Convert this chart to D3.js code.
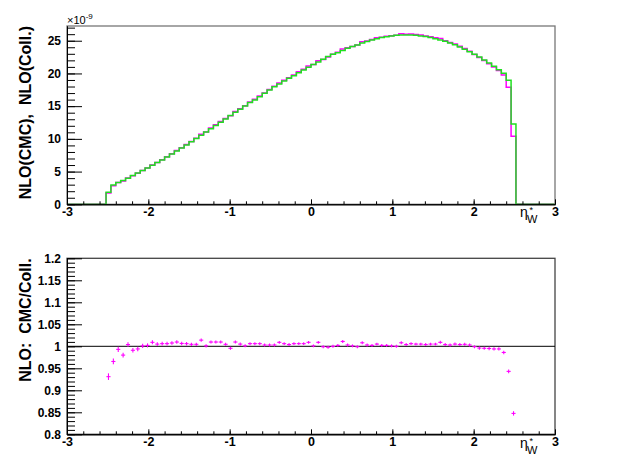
<!DOCTYPE html>
<html><head><meta charset="utf-8">
<script src="https://cdn.jsdelivr.net/npm/d3@7"></script>
<style>
body{margin:0;background:#fff}
svg{display:block}
text{font-family:"Liberation Sans",Arial,Helvetica,sans-serif}
</style>
</head><body>
<svg id="c" width="623" height="463"></svg>
<script>
// ---- data ----
const binLow = -2.52;      // lower edge of first filled bin
const binWidth = 0.06;     // bin width in eta
// NLO(Coll.) histogram (green), units of 1e-9
const collValues = [
  1.85, 2.95, 3.35, 3.65, 4.0, 4.4, 4.78, 5.15, 5.55, 5.96,
  6.37, 6.78, 7.22, 7.68, 8.14, 8.6, 9.08, 9.56, 10.04, 10.54,
  11.04, 11.55, 12.06, 12.55, 13.05, 13.58, 14.05,
  14.52, 15.03, 15.54, 15.95, 16.45, 16.97, 17.48, 17.98, 18.39, 18.85,
  19.27, 19.66, 20.12, 20.53, 20.95, 21.35, 21.76, 22.17, 22.57, 22.93,
  23.18, 23.49, 23.85, 24.1, 24.36,
  24.64, 24.9, 25.12, 25.32, 25.48, 25.62, 25.73, 25.82, 25.87, 25.89,
  25.88, 25.83, 25.74, 25.63, 25.48, 25.31, 25.12, 24.91, 24.66, 24.37,
  24.05, 23.7, 23.33, 22.93, 22.51, 22.06, 21.6, 21.1, 20.58, 20.03,
  18.96, 12.26
];
// NLO CMC/Coll. ratio per bin (magenta points)
const ratioValues = [
  0.931, 0.9655, 0.993, 0.980, 1.004, 0.991, 0.994, 1.001, 1.002, 1.009,
  1.005, 1.006, 1.006, 1.0075, 1.0097, 1.0065, 1.006, 1.0045, 1.0045, 1.014,
  1.001, 1.0097, 1.0097, 1.0097, 1.0045, 0.9955, 1.0097, 1.005, 1.001, 1.006,
  1.006, 1.006, 1.003, 1.003, 1.003, 1.009, 1.006, 1.004, 1.006, 1.006,
  1.006, 1.009, 1.001, 1.009, 0.999, 0.998, 1.000, 1.002, 1.011, 1.003,
  1.001, 0.999, 1.008, 1.003, 1.002, 1.005, 1.002, 1.002, 1.001, 1.000,
  1.008, 1.004, 1.006, 1.005, 1.005, 1.004, 1.005, 1.005, 1.009, 1.004,
  1.003, 1.005, 1.004, 1.0045, 1.003, 0.999, 0.996, 0.9955, 0.995, 0.994,
  0.994, 0.986, 0.943, 0.8475
];
const ratioErrors = [
  0.0075, 0.0065, 0.006, 0.0055, 0.0053, 0.005, 0.005, 0.0048, 0.0046, 0.0045,
  0.0044, 0.0043, 0.0042, 0.0041, 0.004, 0.004, 0.0039, 0.0038, 0.0038, 0.0037,
  0.0037, 0.0036, 0.0036, 0.0036, 0.0035, 0.0035, 0.0035, 0.0035, 0.0034, 0.0034,
  0.0034, 0.0034, 0.0034, 0.0033, 0.0033, 0.0033, 0.0033, 0.0033, 0.0033, 0.0033,
  0.0033, 0.0033, 0.0033, 0.0033, 0.0033, 0.0033, 0.0033, 0.0033, 0.0033, 0.0033,
  0.0033, 0.0033, 0.0033, 0.0033, 0.0033, 0.0033, 0.0033, 0.0033, 0.0033, 0.0033,
  0.0033, 0.0033, 0.0033, 0.0033, 0.0033, 0.0033, 0.0033, 0.0033, 0.0034, 0.0034,
  0.0034, 0.0034, 0.0034, 0.0035, 0.0035, 0.0035, 0.0036, 0.0036, 0.0037, 0.0037,
  0.0038, 0.004, 0.0042, 0.005
];
const xTicks = [-3, -2, -1, 0, 1, 2, 3];
const topYTicks = [0, 5, 10, 15, 20, 25];
const ratioTicks = [0.8, 0.85, 0.9, 0.95, 1, 1.05, 1.1, 1.15, 1.2];
const topTitle = "NLO(CMC),  NLO(Coll.)";
const botTitle = "NLO:  CMC/Coll.";

// ---- layout ----
const svg = d3.select("#c");
const L = 67, R = 555;
const topP = {t: 26, b: 204.3, ymax: 27.25};
const botP = {t: 258.3, b: 434.3};
const colGreen = "#1fe01f", colMag = "#ff00ff";
const FONT = '"Liberation Sans",Arial,sans-serif';

const x = d3.scaleLinear().domain([-3, 3]).range([L, R]);
const yTop = d3.scaleLinear().domain([0, topP.ymax]).range([topP.b, topP.t]);
const yBot = d3.scaleLinear().domain([0.8, 1.2]).range([botP.b, botP.t]);

const fmtR = d => (d === 1 ? "1" : String(+d.toFixed(2)));
const minorX = d3.range(-3, 3.0001, 0.2).map(v => +v.toFixed(2));

function frame(t, b, col) {
  svg.append("rect").attr("x", L).attr("y", t).attr("width", R - L).attr("height", b - t)
    .attr("fill", "none").attr("stroke", col).attr("stroke-width", 1.3);
}
function xAxis(yPos) {
  const g = svg.append("g").attr("transform", `translate(0,${yPos})`);
  g.call(d3.axisBottom(x).tickValues(minorX).tickSize(-3).tickSizeOuter(0).tickFormat(""));
  const g2 = svg.append("g").attr("transform", `translate(0,${yPos})`);
  g2.call(d3.axisBottom(x).tickValues(xTicks).tickSize(-5).tickSizeOuter(0).tickPadding(3.2)
      .tickFormat(d => d < 0 ? "-" + Math.abs(d) : String(d)));
  [g, g2].forEach(a => { a.select(".domain").attr("stroke", "#000"); a.selectAll("line").attr("stroke", "#000"); });
  g2.selectAll("text").attr("font-size", 12.5).attr("font-weight", "bold").attr("fill", "#000")
    .attr("font-family", FONT);
}
function yAxis(scale, major, minor, fmt) {
  const g = svg.append("g").attr("transform", `translate(${L},0)`);
  g.call(d3.axisLeft(scale).tickValues(minor).tickSize(-8).tickSizeOuter(0).tickFormat(""));
  const g2 = svg.append("g").attr("transform", `translate(${L},0)`);
  g2.call(d3.axisLeft(scale).tickValues(major).tickSize(-15).tickSizeOuter(0).tickPadding(6).tickFormat(fmt));
  [g, g2].forEach(a => { a.select(".domain").attr("stroke", "#000"); a.selectAll("line").attr("stroke", "#000"); });
  g2.selectAll("text").attr("font-size", 12).attr("font-weight", "bold").attr("fill", "#000")
    .attr("font-family", FONT);
}
function etaLabel(dy) {
  svg.append("text").attr("x", 520).attr("y", 216.7 + dy).attr("font-size", 14).text("η");
  svg.append("text").attr("x", 529.5).attr("y", 212.5 + dy).attr("font-size", 9).text("*");
  svg.append("text").attr("x", 527).attr("y", 223.3 + dy).attr("font-size", 11).text("W");
}
function yTitle(txt, yEnd) {
  svg.append("text").attr("transform", `translate(31,${yEnd}) rotate(-90)`)
    .attr("text-anchor", "end").attr("font-size", 16).attr("font-weight", "bold")
    .style("white-space", "pre").attr("xml:space", "preserve").text(txt);
}

// ---- top panel ----
frame(topP.t, topP.b, "#777");
const cmcValues = collValues.map((v, i) => v * ratioValues[i]);
function histPts(vals) {
  const pts = [{e: -3, v: 0}];
  vals.forEach((v, i) => pts.push({e: binLow + i * binWidth, v}));
  pts.push({e: binLow + vals.length * binWidth, v: 0});
  pts.push({e: 3, v: 0});
  return pts;
}
const step = d3.line().x(d => x(d.e)).y(d => yTop(d.v)).curve(d3.curveStepAfter);
svg.append("path").attr("d", step(histPts(cmcValues))).attr("fill", "none")
  .attr("stroke", colMag).attr("stroke-width", 1.5);
svg.append("path").attr("d", step(histPts(collValues))).attr("fill", "none")
  .attr("stroke", colGreen).attr("stroke-width", 1.5);

xAxis(topP.b);
yAxis(yTop, topYTicks, d3.range(0, 27.5, 1), d => String(d));
svg.append("text").attr("x", 67).attr("y", 24).attr("font-size", 11).text("×10")
  .append("tspan").attr("dy", -5).attr("font-size", 8).text("-9");
etaLabel(0);
yTitle(topTitle, topP.t);

// ---- bottom panel ----
frame(botP.t, botP.b, "#444");
svg.append("line").attr("x1", L).attr("x2", R).attr("y1", yBot(1)).attr("y2", yBot(1))
  .attr("stroke", "#000").attr("stroke-width", 1);
const pts = ratioValues.map((r, i) => ({c: binLow + (i + 0.5) * binWidth, r, e: ratioErrors[i]}));
const pg = svg.append("g");
pg.selectAll("line.h").data(pts).join("line").attr("class", "h")
  .attr("stroke", colMag).attr("stroke-width", 1.1)
  .attr("x1", d => x(d.c - binWidth * 0.42)).attr("x2", d => x(d.c + binWidth * 0.42))
  .attr("y1", d => yBot(d.r)).attr("y2", d => yBot(d.r));
pg.selectAll("line.v").data(pts).join("line").attr("class", "v")
  .attr("stroke", colMag).attr("stroke-width", 1.1)
  .attr("x1", d => x(d.c)).attr("x2", d => x(d.c))
  .attr("y1", d => yBot(d.r - d.e)).attr("y2", d => yBot(d.r + d.e));

xAxis(botP.b);
yAxis(yBot, ratioTicks, d3.range(0, 41).map(i => +(0.8 + i * 0.01).toFixed(2)), fmtR);
etaLabel(231);
yTitle(botTitle, botP.t);
</script>
</body></html>
